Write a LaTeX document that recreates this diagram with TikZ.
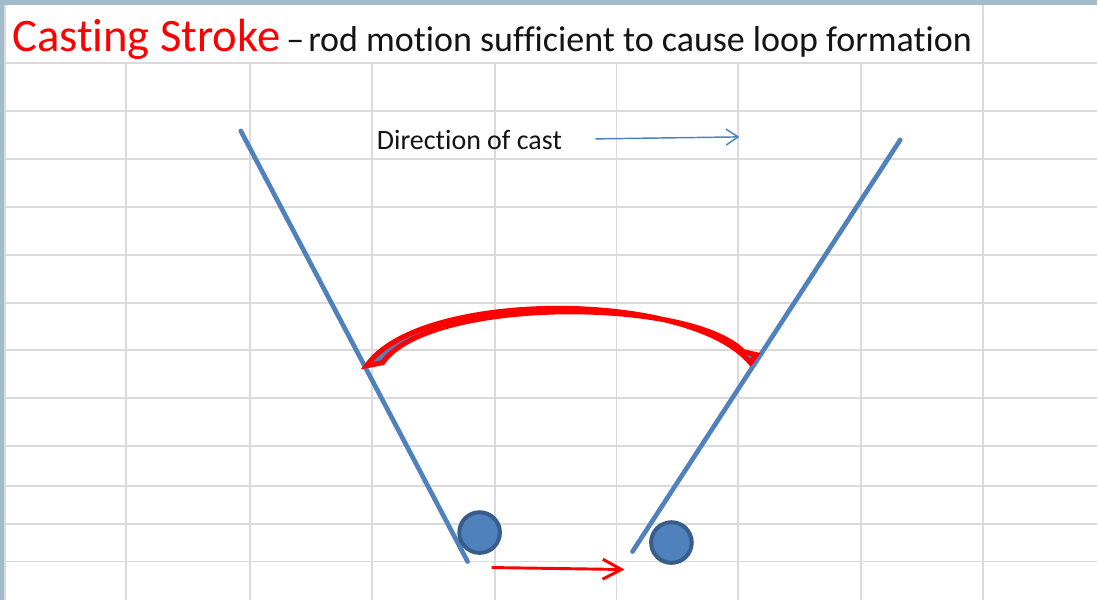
\documentclass[tikz,border=0pt]{standalone}
\usepackage{fontspec}
\setmainfont{Carlito}[Ligatures={NoCommon}]
\usetikzlibrary{arrows.meta, positioning}
\definecolor{cblue}{HTML}{4F81BD}
\definecolor{cdarkblue}{HTML}{385D8A}
\definecolor{cred}{HTML}{FF0000}
\definecolor{cgrid}{HTML}{DADADA}
\definecolor{cframe}{HTML}{A3BCCB}
\definecolor{ctext}{HTML}{141414}
\tikzset{
  every picture/.style={x=0.75pt, y=-0.75pt},
  gridline/.style={draw=cgrid, line width=1.4pt},
  rod/.style={draw=cblue, line width=3.5pt, line cap=round},
  ball/.style={circle, draw=cdarkblue, fill=cblue, line width=3pt, minimum size=30.5pt, inner sep=0pt},
  loopband/.style={draw=cred, fill=cblue, line width=3.8pt},
  pusharrow/.style={-{Straight Barb[length=14pt, width=15pt]}, draw=cred, line width=2.2pt},
  castarrow/.style={-{Straight Barb[length=9pt, width=12pt]}, draw=cblue, line width=1.1pt},
  castnote/.style={font=\fontsize{21}{24}\selectfont, text=ctext, inner sep=0pt, anchor=base west},
}

\begin{document}
\begin{tikzpicture}
  \fill[cframe] (0,0) rectangle (1098,600);
  \fill[white] (5,5) rectangle (1098,600);
  \draw[gridline] (5,5) -- (5,600);
  \foreach \y in {63,111,159,207,255,303,350,398,446,486,524,562}
    \draw[gridline] (5,\y) -- (1098,\y);
  \foreach \x in {126,250,372,495,617,739,862}
    \draw[gridline] (\x,63) -- (\x,600);
  \draw[gridline] (984,5) -- (984,600);

  \node[anchor=base west, inner sep=0pt, text=cred, font=\fontsize{35}{40}\selectfont] (title) at (12,52) {Casting Stroke};
  \node[anchor=base west, inner sep=0pt, text=ctext, font=\fontsize{27}{31}\selectfont] (subtitle) at ([xshift=4pt]title.base east) {–\hspace{3pt}rod motion sufficient to cause loop formation};

  \node[castnote] (castlabel) at (377,150) {Direction of cast};
  \coordinate (castA) at (596,139);
  \coordinate (castB) at (740,137);
  \draw[castarrow] (castA) -- (castB);

  \coordinate (lrodtop) at (241,131);
  \coordinate (lrodbot) at (468,562);
  \coordinate (rrodtop) at (901,140);
  \coordinate (rrodbot) at (633,552);
  \draw[rod] (lrodtop) -- (lrodbot);
  \draw[rod] (rrodtop) -- (rrodbot);

  \draw[loopband] (367,366) .. controls (420,290) and (690,290) .. (751,363)
    -- (757,355) -- (744,352) .. controls (690,297) and (428,297) .. (383,363) -- cycle;

  \node[ball] (lball) at (480,533) {};
  \node[ball] (rball) at (672,543) {};

  \coordinate (pushA) at (492,568);
  \coordinate (pushB) at (625,570);
  \draw[pusharrow] (pushA) -- (pushB);
\end{tikzpicture}
\end{document}
